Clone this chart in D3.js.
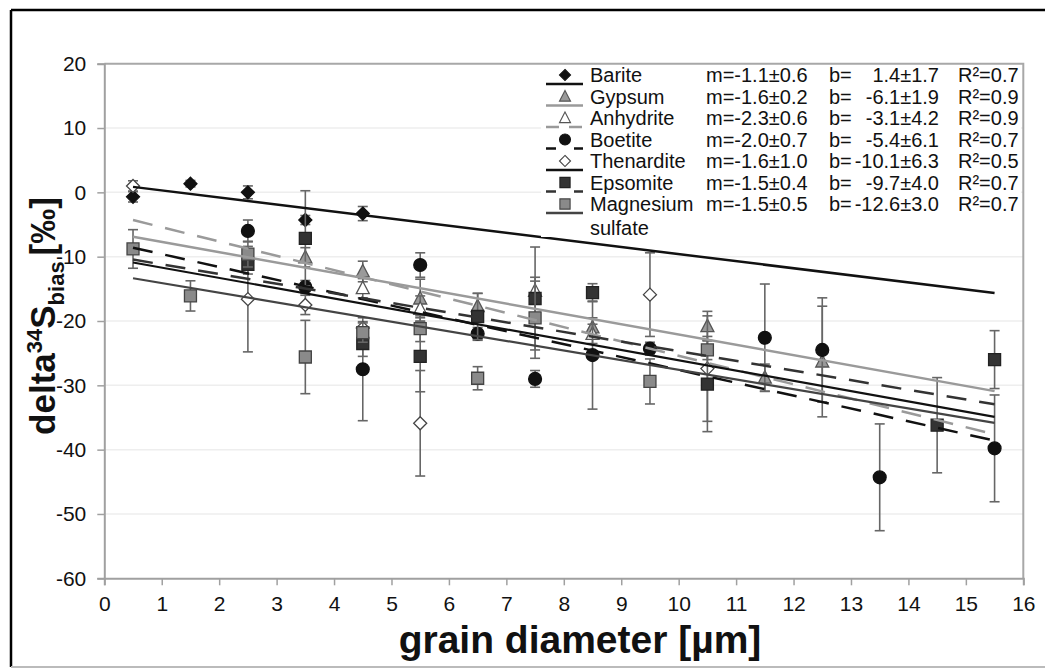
<!DOCTYPE html>
<html><head><meta charset="utf-8">
<script src="https://cdn.jsdelivr.net/npm/d3@7"></script>
<style>body{margin:0;background:#fff}svg text{font-family:"Liberation Sans",Arial,sans-serif}</style>
</head><body>
<svg id="c" width="1045" height="669"></svg>
<script>
// ---------- data ----------
const seriesNames = ["Barite","Gypsum","Anhydrite","Boetite","Thenardite","Epsomite","Magnesium"];
const mTexts = ["m=-1.1±0.6","m=-1.6±0.2","m=-2.3±0.6","m=-2.0±0.7","m=-1.6±1.0","m=-1.5±0.4","m=-1.5±0.5"];
const bTexts = ["1.4±1.7","-6.1±1.9","-3.1±4.2","-5.4±6.1","-10.1±6.3","-9.7±4.0","-12.6±3.0"];
const r2Texts = ["R²=0.7","R²=0.9","R²=0.9","R²=0.7","R²=0.5","R²=0.7","R²=0.7"];

// trend lines as drawn (slope, intercept) from x=0.5 to x=15.5
const lineM = [-1.1,-1.6,-2.22,-2.0,-1.6,-1.5,-1.5];
const lineB = [1.4,-6.1,-3.2,-7.6,-10.1,-9.7,-12.6];
const lineX0 = 0.5, lineX1 = 15.5;

const bariteX = [0.5,1.5,2.5,3.5,4.5];
const bariteY = [-0.7,1.35,0.0,-4.3,-3.3];
const bariteE = [0.8,0.5,1.0,0.7,1.1];

const gypsumX = [3.5,4.5,5.5,6.5,8.5,10.5,11.5,12.5];
const gypsumY = [-10.1,-12.3,-16.5,-17.7,-21.0,-20.8,-28.8,-26.3];
const gypsumE = [1.5,1.6,3.0,2.0,1.5,2.3,2.1,8.6];

const anhydriteX = [4.5,5.5,7.5,8.5];
const anhydriteY = [-14.9,-18.1,-15.3,-22.0];
const anhydriteE = [1.5,2.0,1.5,1.5];

const boetiteX = [2.5,3.5,4.5,5.5,6.5,7.5,8.5,9.5,11.5,12.5,13.5,15.5];
const boetiteY = [-6.0,-14.7,-27.5,-11.3,-22.0,-29.0,-25.3,-24.3,-22.6,-24.5,-44.3,-39.8];
const boetiteE = [1.7,1.0,8.0,1.9,1.0,1.3,8.4,1.0,8.35,8.1,8.3,8.3];

const thenarditeX = [0.5,2.5,3.5,4.5,5.5,9.5,10.5];
const thenarditeY = [1.0,-16.6,-17.5,-21.1,-35.9,-15.9,-27.4];
const thenarditeE = [0.8,8.2,1.5,1.0,8.2,6.5,8.2];

const epsomiteX = [2.5,3.5,4.5,5.5,6.5,7.5,8.5,10.5,14.5,15.5];
const epsomiteY = [-11.2,-7.15,-23.5,-25.5,-19.3,-16.5,-15.6,-29.8,-36.2,-26.0];
const epsomiteE = [1.5,7.4,2.0,5.5,3.6,8.0,1.4,7.4,7.4,4.5];

const mgsX = [0.5,1.5,2.5,3.5,4.5,5.5,6.5,7.5,9.5,10.5];
const mgsY = [-8.8,-16.1,-9.6,-25.6,-21.8,-21.2,-28.9,-19.5,-29.4,-24.5];
const mgsE = [3.0,2.35,2.0,5.7,1.5,2.0,1.8,6.3,3.5,1.5];

const xTicks = d3.range(0,17,1);
const yTicks = [20,10,0,-10,-20,-30,-40,-50,-60];

// ---------- styles ----------
const seriesXs = [bariteX,gypsumX,anhydriteX,boetiteX,thenarditeX,epsomiteX,mgsX];
const seriesYs = [bariteY,gypsumY,anhydriteY,boetiteY,thenarditeY,epsomiteY,mgsY];
const seriesEs = [bariteE,gypsumE,anhydriteE,boetiteE,thenarditeE,epsomiteE,mgsE];
const shapes = ["diamond","triangle","triangle","circle","diamond","square","square"];
const fills  = ["#111","#9a9a9a","#fff","#111","#fff","#333","#8a8a8a"];
const strokes= ["#111","#555","#555","#111","#444","#222","#444"];
const lineColors = ["#111","#9a9a9a","#9a9a9a","#111","#111","#333","#444"];
const lineDash = [null,null,"20,13",  "20,13", null, "20,13", null];
const legDash  = [null,null,"13,10","10,18",null,"10,18",null];
const lineW = [2.5,2.5,2.5,2.5,2.2,2.5,2.2];

const svg = d3.select("#c");
const L=104.3,R=1023.3,T=63.7,B=578.3;
const x = d3.scaleLinear().domain([0,16]).range([L,R]);
const y = d3.scaleLinear().domain([-60,20]).range([B,T]);

// outer frame
svg.append("line").attr("x1",11).attr("x2",11).attr("y1",10).attr("y2",667).attr("stroke","#000").attr("stroke-width",2.5);
svg.append("line").attr("x1",11).attr("x2",1045).attr("y1",10).attr("y2",10).attr("stroke","#000").attr("stroke-width",2.5);
svg.append("line").attr("x1",11).attr("x2",1045).attr("y1",667).attr("y2",667).attr("stroke","#bbb").attr("stroke-width",2);

// grid
svg.append("g").selectAll("line").data(yTicks.filter(v=>v!==20&&v!==-60)).join("line")
  .attr("x1",L).attr("x2",R).attr("y1",d=>y(d)).attr("y2",d=>y(d))
  .attr("stroke","#eeeeee").attr("stroke-width",1.5);

// frame of plot (top, right)
svg.append("path").attr("d",`M${L},${T}H${R}V${B}`).attr("fill","none").attr("stroke","#a8a8a8").attr("stroke-width",2);

// axes
const fmt = d => String(d);
const ax = svg.append("g").attr("transform",`translate(0,${B})`)
  .call(d3.axisBottom(x).tickValues(xTicks).tickSize(7).tickPadding(11).tickFormat(fmt));
const ay = svg.append("g").attr("transform",`translate(${L},0)`)
  .call(d3.axisLeft(y).tickValues(yTicks).tickSize(7).tickPadding(10).tickFormat(fmt));
[ax,ay].forEach(g=>{
  g.select(".domain").attr("stroke","#a0a0a0").attr("stroke-width",2);
  g.selectAll(".tick line").attr("stroke","#a0a0a0").attr("stroke-width",1.5);
  g.selectAll(".tick text").attr("fill","#111").style("font-size","21px");
});
ay.selectAll(".tick text").attr("dx","-1");

// markers
function shapePath(s){
  if(s==="diamond") return "M0,-6.5L6.5,0L0,6.5L-6.5,0Z";
  if(s==="square") return "M-6,-6H6V6H-6Z";
  if(s==="triangle") return "M0,-7L6.5,5.5H-6.5Z";
  return d3.symbol(d3.symbolCircle, 130)();
}

const plot = svg.append("g");
seriesNames.forEach((nm,i)=>{
  const pts = seriesXs[i].map((xv,k)=>({x:xv,y:seriesYs[i][k],e:seriesEs[i][k]}));
  const g = plot.append("g");
  const eb = g.selectAll("g.eb").data(pts).join("g").attr("stroke","#666").attr("stroke-width",1.6);
  eb.append("line").attr("x1",d=>x(d.x)).attr("x2",d=>x(d.x)).attr("y1",d=>y(d.y+d.e)).attr("y2",d=>y(d.y-d.e));
  eb.append("line").attr("x1",d=>x(d.x)-5).attr("x2",d=>x(d.x)+5).attr("y1",d=>y(d.y+d.e)).attr("y2",d=>y(d.y+d.e));
  eb.append("line").attr("x1",d=>x(d.x)-5).attr("x2",d=>x(d.x)+5).attr("y1",d=>y(d.y-d.e)).attr("y2",d=>y(d.y-d.e));
  g.selectAll("path").data(pts).join("path")
    .attr("d",shapePath(shapes[i]))
    .attr("transform",d=>`translate(${x(d.x)},${y(d.y)})`)
    .attr("fill",fills[i]).attr("stroke",strokes[i]).attr("stroke-width",1.3);
});

// trend lines on top
seriesNames.forEach((nm,i)=>{
  svg.append("line")
    .attr("x1",x(lineX0)).attr("y1",y(lineM[i]*lineX0+lineB[i]))
    .attr("x2",x(lineX1)).attr("y2",y(lineM[i]*lineX1+lineB[i]))
    .attr("stroke",lineColors[i]).attr("stroke-width",lineW[i])
    .attr("stroke-dasharray",lineDash[i]);
});

// legend
const lg = svg.append("g");
const rowY = i => 75 + i*21.5;
lg.append("rect").attr("x",541).attr("y",65).attr("width",480).attr("height",172).attr("fill","#fff");
seriesNames.forEach((nm,i)=>{
  const cy = rowY(i);
  lg.append("line").attr("x1",546).attr("x2",583).attr("y1",cy+9).attr("y2",cy+9)
    .attr("stroke",lineColors[i]).attr("stroke-width",2.5).attr("stroke-dasharray",legDash[i]);
  lg.append("path").attr("d",shapePath(shapes[i])).attr("transform",`translate(565,${cy}) scale(0.85)`)
    .attr("fill",fills[i]).attr("stroke",strokes[i]).attr("stroke-width",1.3);
  const t = (xx,s,anchor)=>lg.append("text").attr("x",xx).attr("y",cy+7).attr("text-anchor",anchor||"start")
    .style("font-size","20px").attr("fill","#111").text(s);
  t(590,nm);
  t(706,mTexts[i]);
  t(829,"b=");
  t(939,bTexts[i],"end");
  t(958,r2Texts[i]);
});
lg.append("text").attr("x",590).attr("y",rowY(7)+9).style("font-size","20px").attr("fill","#111").text("sulfate");

// axis titles
svg.append("text").attr("x",580).attr("y",653).attr("text-anchor","middle")
  .style("font-size","39px").style("font-weight","bold").attr("fill","#111").text("grain diameter [µm]");
const yt = svg.append("text").attr("transform","translate(55,316) rotate(-90)").attr("text-anchor","middle")
  .style("font-size","35px").style("font-weight","bold").attr("fill","#111");
yt.append("tspan").text("delta");
yt.append("tspan").attr("dy",-13).style("font-size","22px").text("34");
yt.append("tspan").attr("dy",13).text("S");
yt.append("tspan").attr("dy",9).style("font-size","22px").text("bias");
yt.append("tspan").attr("dy",-9).attr("dx",6).text("[‰]");
</script>
</body></html>
